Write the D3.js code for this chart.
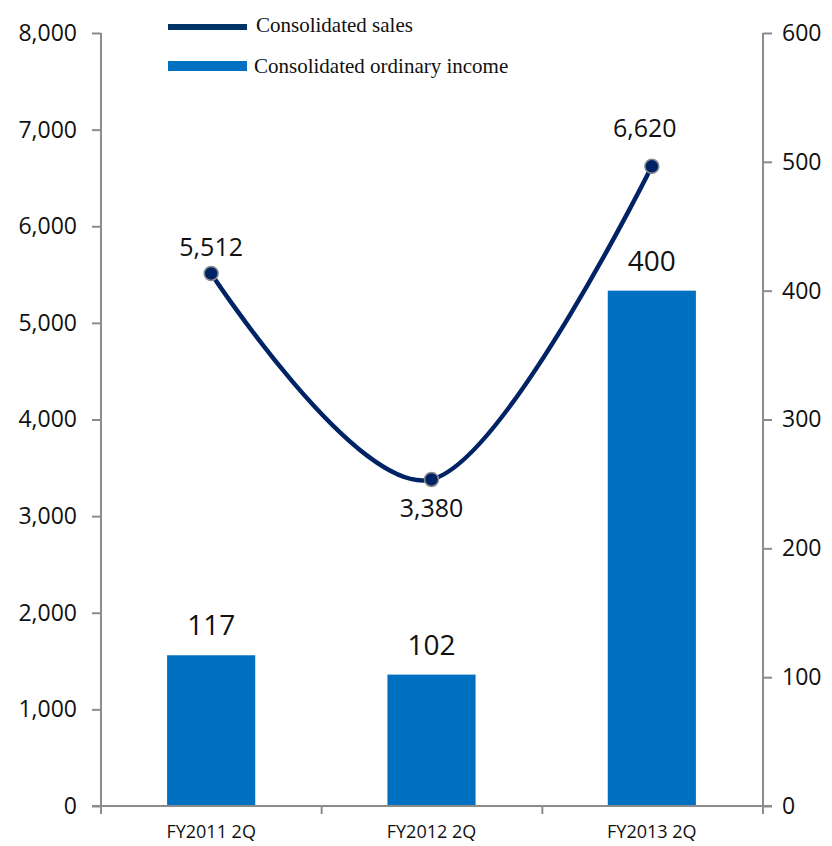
<!DOCTYPE html>
<html>
<head>
<meta charset="utf-8">
<script src="https://cdn.jsdelivr.net/npm/d3@7"></script>
<style>
  html, body { margin: 0; padding: 0; background: #fff; }
  svg { display: block; }
</style>
</head>
<body>
<svg id="chart" width="832" height="846"></svg>
<script>
// Half-year results: sales (left axis) and ordinary income (right axis)
const categories = ["FY2011 2Q", "FY2012 2Q", "FY2013 2Q"];
const salesValues = [5512, 3380, 6620];
const incomeValues = [117, 102, 400];
const leftTicks = [0, 1000, 2000, 3000, 4000, 5000, 6000, 7000, 8000];
const rightTicks = [0, 100, 200, 300, 400, 500, 600];
const seriesNames = ["Consolidated sales", "Consolidated ordinary income"];

const svg = d3.select("#chart");
const margin = { left: 101, right: 70, top: 33, bottom: 40 };
const W = 832, H = 846;
const plotBottom = 806;

const x = d3.scaleBand()
  .domain(categories)
  .range([margin.left, W - margin.right])
  .paddingInner(0.6)
  .paddingOuter(0.3);

const yLeft = d3.scaleLinear().domain([0, 8000]).range([plotBottom, margin.top]);
const yRight = d3.scaleLinear().domain([0, 600]).range([plotBottom, margin.top]);

const axisColor = "#8c8c8c";
const barColor = "#0070C0";
const lineColor = "#002366";
const tickFont = "'Open Sans', 'DejaVu Sans', sans-serif";

// Bars: ordinary income on the right axis
svg.append("g")
  .selectAll("rect")
  .data(incomeValues)
  .join("rect")
  .attr("x", (d, i) => x(categories[i]))
  .attr("y", d => yRight(d))
  .attr("width", x.bandwidth())
  .attr("height", d => plotBottom - yRight(d))
  .attr("fill", barColor);

// Left axis
const gL = svg.append("g")
  .attr("transform", `translate(${margin.left},0)`)
  .call(d3.axisLeft(yLeft).tickValues(leftTicks).tickFormat(d3.format(",")).tickSize(9).tickPadding(15));
// Right axis
const gR = svg.append("g")
  .attr("transform", `translate(${W - margin.right + 1},0)`)
  .call(d3.axisRight(yRight).tickValues(rightTicks).tickFormat(d3.format("d")).tickSize(9).tickPadding(10));

[gL, gR].forEach(g => {
  g.select(".domain").attr("stroke", axisColor).attr("stroke-width", 2);
  g.selectAll(".tick line").attr("stroke", axisColor).attr("stroke-width", 2);
  g.selectAll(".tick text")
    .attr("font-family", tickFont)
    .attr("font-size", 23)
    .attr("fill", "#111");
});
gL.select(".domain").attr("d", `M0,${margin.top}V${plotBottom}`);
gR.select(".domain").attr("d", `M0,${margin.top}V${plotBottom}`);
gL.selectAll(".tick line").attr("x2", -9);
gR.selectAll(".tick line").attr("x2", 9);

// Category axis: baseline with separators between categories
const xAxisG = svg.append("g");
const xEdges = d3.range(categories.length + 1).map(i => margin.left + i * (W - margin.right + 1 - margin.left) / categories.length);
xAxisG.append("line")
  .attr("x1", margin.left - 9).attr("x2", W - margin.right + 10)
  .attr("y1", plotBottom).attr("y2", plotBottom)
  .attr("stroke", axisColor).attr("stroke-width", 2);
xAxisG.selectAll(".sep")
  .data(xEdges)
  .join("line")
  .attr("x1", d => d).attr("x2", d => d)
  .attr("y1", plotBottom).attr("y2", plotBottom + 8)
  .attr("stroke", axisColor).attr("stroke-width", 2);
xAxisG.selectAll("text")
  .data(categories)
  .join("text")
  .attr("x", d => x(d) + x.bandwidth() / 2)
  .attr("y", 838)
  .attr("text-anchor", "middle")
  .attr("font-family", tickFont)
  .attr("font-size", 18)
  .attr("fill", "#111")
  .text(d => d);

// Sales line (smoothed) on the left axis
const line = d3.line()
  .x((d, i) => x(categories[i]) + x.bandwidth() / 2)
  .y(d => yLeft(d))
  .curve(d3.curveCatmullRom.alpha(0));
svg.append("path")
  .datum(salesValues)
  .attr("d", line)
  .attr("fill", "none")
  .attr("stroke", lineColor)
  .attr("stroke-width", 4.5);

svg.append("g")
  .selectAll("circle")
  .data(salesValues)
  .join("circle")
  .attr("cx", (d, i) => x(categories[i]) + x.bandwidth() / 2)
  .attr("cy", d => yLeft(d))
  .attr("r", 7)
  .attr("fill", lineColor)
  .attr("stroke", "#8c8c8c")
  .attr("stroke-width", 1.5);

// Sales value labels (below the lowest point, above the others)
const salesLabelOffset = [-17, 38, -29];
svg.append("g")
  .selectAll("text")
  .data(salesValues)
  .join("text")
  .attr("x", (d, i) => x(categories[i]) + x.bandwidth() / 2 + (i === 2 ? -7 : 0))
  .attr("y", (d, i) => yLeft(d) + salesLabelOffset[i])
  .attr("text-anchor", "middle")
  .attr("font-family", tickFont)
  .attr("font-size", 25)
  .attr("fill", "#111")
  .text(d => d3.format(",")(d));

// Income value labels above bars
svg.append("g")
  .selectAll("text")
  .data(incomeValues)
  .join("text")
  .attr("x", (d, i) => x(categories[i]) + x.bandwidth() / 2)
  .attr("y", d => yRight(d) - 20)
  .attr("text-anchor", "middle")
  .attr("font-family", tickFont)
  .attr("font-size", 28)
  .attr("fill", "#111")
  .text(d => d);

// Legend
const legend = svg.append("g");
legend.append("rect")
  .attr("x", 168).attr("y", 24).attr("width", 79).attr("height", 6)
  .attr("fill", "#003366");
legend.append("rect")
  .attr("x", 168).attr("y", 61).attr("width", 79).attr("height", 10)
  .attr("fill", barColor);
legend.selectAll("text")
  .data(seriesNames)
  .join("text")
  .attr("x", (d, i) => i === 0 ? 256 : 254)
  .attr("y", (d, i) => i === 0 ? 32 : 73)
  .attr("font-family", "'Liberation Serif', 'Times New Roman', serif")
  .attr("font-size", 21)
  .attr("fill", "#111")
  .text(d => d);
</script>
</body>
</html>
